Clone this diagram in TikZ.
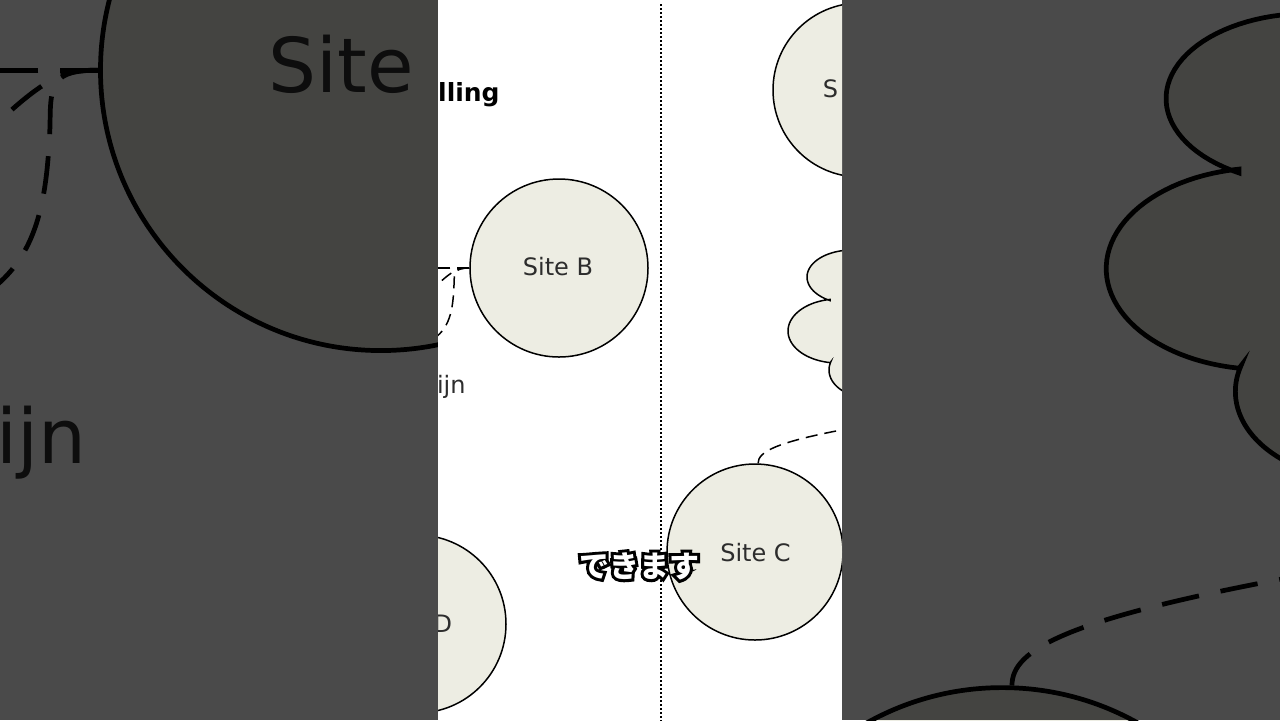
\documentclass[tikz,border=0pt]{standalone}
\usepackage{fontspec}
\setmainfont{DejaVu Sans}
\newfontfamily\cjk{Noto Sans CJK JP}
\newfontfamily\cjkout{Noto Sans CJK JP}[FakeBold=20]
\definecolor{sitefill}{RGB}{237,237,227}
\definecolor{labelgray}{RGB}{45,45,45}
\tikzset{
  site/.style={circle, draw=black, fill=sitefill, line width=0.75pt, inner sep=0pt},
  lbl/.style={font=\fontsize{12}{14}\selectfont, text=labelgray, inner sep=0pt},
  ttlstyle/.style={font=\fontsize{12.5}{15}\selectfont\bfseries, text=black, inner sep=0pt},
  link/.style={draw=black, line width=0.75pt, dash pattern=on 6pt off 3.5pt},
  divider/.style={draw=black, line width=1pt, dash pattern=on 1pt off 1pt},
  cloudshape/.style={draw=black, fill=sitefill, line width=0.75pt, line join=miter},
  subout/.style={font=\cjkout\bfseries\fontsize{15}{17}\selectfont, text=black, inner sep=0pt},
  subtxt/.style={font=\cjk\bfseries\fontsize{15}{17}\selectfont, text=white, inner sep=0pt},
  panel/.style={fill=black, opacity=0.71},
  zoomedL/.style={transform canvas={shift={(-1380,-774)}, scale=3.15}},
  zoomedR/.style={transform canvas={shift={(-1376,-774)}, scale=3.15}}
}
% ---- pieces of the diagram, in pixel coordinates ----
\newcommand\partB{%
  \node[site, minimum size=89pt] (sB) at (559,268) {};
  \coordinate (h1) at (400,268);
  \coordinate (d2) at (425,297);
  \coordinate (d3) at (430,341);
  \draw[link] (sB.west) -- (h1);
  \draw[link] (sB.west) .. controls (458,268) and (452,269) .. (d2);
  \draw[link] (sB.west) .. controls (455,268) and (454,272) .. (454,285)
                        .. controls (453,310) and (450,330) .. (d3);
}
\newcommand\partC{%
  \filldraw[cloudshape]
    plot[domain=-60:-241, samples=50] ({852+45*cos(\x)},{277+27*sin(\x)})
    -- plot[domain=-99:-261, samples=50] ({838+50*cos(\x)},{331+32*sin(\x)})
    -- plot[domain=197:60, samples=50] ({870+41*cos(\x)},{370+28*sin(\x)})
    -- (900,420) -- (900,240) -- cycle;
  \node[site, minimum size=88pt] (sC) at (755,552) {};
  \coordinate (cend) at (852,428);
  \draw[link] (sC.88) .. controls (758,452) and (775,442) .. (cend);
}
\begin{document}
\begin{tikzpicture}[x=0.5pt, y=-0.5pt]
  \useasboundingbox (0,0) rectangle (1280,720);
  % ---------- left enlarged, darkened panel ----------
  \begin{scope}
    \clip (0,0) rectangle (438,720);
    \fill[white] (0,0) rectangle (438,720);
    \begin{scope}[zoomedL]
      \partB
      \node[lbl, anchor=base west] (zSite) at (522.9,275) {Site};
      \node[lbl, anchor=base east] (zijn) at (466,393) {ijn};
    \end{scope}
    \fill[panel] (0,0) rectangle (438,720);
  \end{scope}
  % ---------- right enlarged, darkened panel ----------
  \begin{scope}
    \clip (842,0) rectangle (1280,720);
    \fill[white] (842,0) rectangle (1280,720);
    \begin{scope}[zoomedR]
      \partC
    \end{scope}
    \fill[panel] (842,0) rectangle (1280,720);
  \end{scope}
  % ---------- centre strip ----------
  \begin{scope}
    \clip (438,0) rectangle (842,720);
    \fill[white] (438,0) rectangle (842,720);
    \coordinate (dtop) at (661,4);
    \coordinate (dbot) at (661,722);
    \draw[divider] (dtop) -- (dbot);
    \node[ttlstyle, anchor=base east] (ttl) at (500,101) {lling};
    \partC
    \node[site, minimum size=87pt] (sA) at (860,90) {};
    \node[lbl, anchor=base west] (sAl) at (822.5,97) {S};
    \partB
    \node[lbl, anchor=base] (sBl) at (558,275) {Site B};
    \node[site, minimum size=89pt] (sD) at (417,624) {};
    \node[lbl, anchor=base east] (sDl) at (452.5,632) {D};
    \node[lbl, anchor=base] (sCl) at (755.5,561) {Site C};
    \node[lbl, anchor=base east] (ijn) at (466,393) {ijn};
  \end{scope}
  % ---------- subtitle ----------
  \coordinate (subc) at (639,566);
  \node[subout] (subo) at (subc) {できます};
  \node[subtxt] (sub) at (subc) {できます};
\end{tikzpicture}
\end{document}
